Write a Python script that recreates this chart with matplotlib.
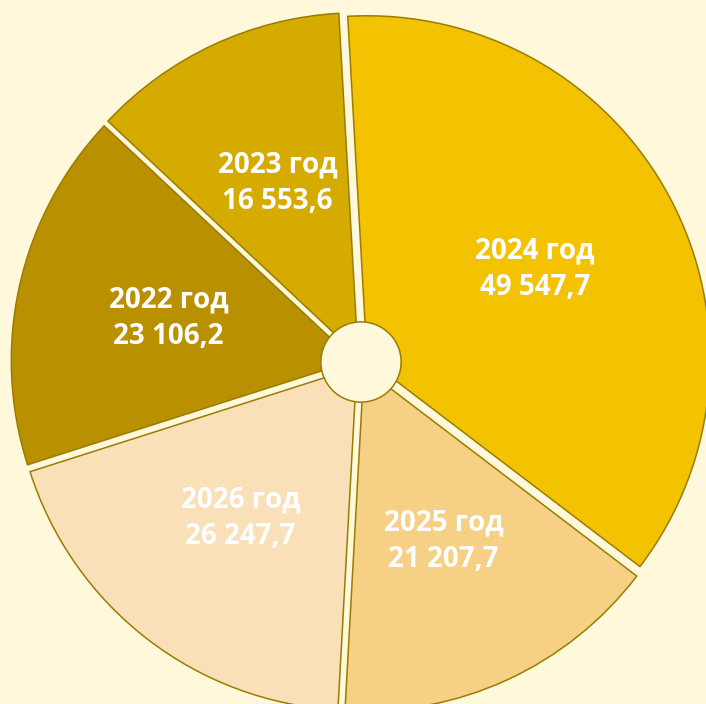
import matplotlib.pyplot as plt
from matplotlib.patches import Circle

# Данные
years = ['2022 год', '2023 год', '2024 год', '2025 год', '2026 год']
values = [23106.2, 16553.6, 49547.7, 21207.7, 26247.7]
value_labels = ['23 106,2', '16 553,6', '49 547,7', '21 207,7', '26 247,7']
colors = ['#B89000', '#D6AB00', '#F3C200', '#F6D084', '#F9E0B8']

bg = '#FFF8DA'
edge = '#9A7D00'

fig = plt.figure(figsize=(7.06, 7.04), dpi=100, facecolor=bg)
ax = fig.add_axes([0, 0, 1, 1])
ax.set_facecolor(bg)

labels = [f'{y}\n{v}' for y, v in zip(years, value_labels)]
wedges, texts = ax.pie(values, colors=colors, startangle=197.7, counterclock=False,
                       explode=[0.02] * len(values), radius=1.0,
                       labels=labels, labeldistance=0.555,
                       wedgeprops=dict(edgecolor=edge, linewidth=1.1),
                       textprops=dict(color='white', fontsize=20, fontweight='bold',
                                      family='Open Sans', linespacing=1.35))
for t in texts:
    t.set_ha('center')
    t.set_va('center')

ax.add_patch(Circle((0, 0), 0.117, facecolor=bg, edgecolor=edge, linewidth=1.1, zorder=5))

# пирог обрезан краями рисунка
R = 343.0
cx, cy = 361.0, 362.0
ax.set_xlim(-cx / R, (706 - cx) / R)
ax.set_ylim(-(704 - cy) / R, cy / R)
ax.set_aspect('equal')
ax.axis('off')

fig.savefig('out.png', dpi=100, facecolor=bg)
